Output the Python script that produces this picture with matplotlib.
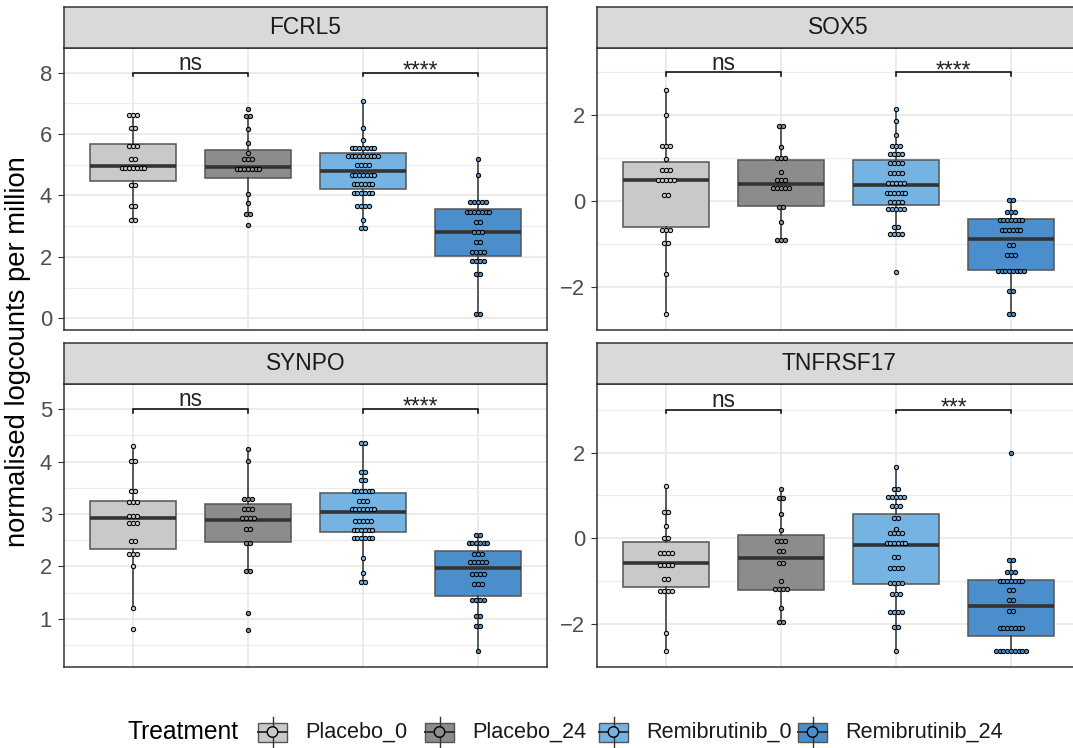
import matplotlib
matplotlib.use("Agg")
import matplotlib.pyplot as plt
import numpy as np
from matplotlib.patches import Rectangle, Ellipse
from matplotlib.ticker import MultipleLocator

plt.rcParams['font.family'] = ['Liberation Sans', 'DejaVu Sans']

groups = ["Placebo_0", "Placebo_24", "Remibrutinib_0", "Remibrutinib_24"]
colors = ["#CBC8C8", "#8C8C8C", "#74B3E2", "#4A8FCC"]
genes = ["FCRL5", "SOX5", "SYNPO", "TNFRSF17"]

# dot stacks: bin levels and number of dots per bin, one list per group
FCRL5_levels = [
    [6.62, 6.21, 5.62, 5.18, 4.89, 4.33, 3.65, 3.20],
    [6.82, 6.58, 6.16, 5.70, 5.39, 5.18, 4.85, 4.06, 3.77, 3.39, 3.03],
    [7.07, 6.19, 5.80, 5.54, 5.29, 4.99, 4.65, 4.36, 4.09, 3.67, 3.20, 2.94],
    [5.18, 4.68, 3.80, 3.46, 3.15, 2.81, 2.48, 2.17, 1.88, 1.43, 0.13],
]
FCRL5_counts = [
    [3, 2, 3, 2, 7, 2, 2, 2],
    [1, 2, 1, 1, 1, 3, 7, 1, 1, 2, 1],
    [1, 1, 1, 7, 9, 4, 7, 6, 6, 4, 1, 2],
    [1, 1, 5, 7, 2, 3, 2, 4, 4, 2, 2],
]
SOX5_levels = [
    [2.59, 2.01, 1.29, 0.98, 0.72, 0.50, 0.15, -0.66, -0.98, -1.69, -2.63],
    [1.76, 1.27, 1.00, 0.69, 0.49, 0.31, -0.13, -0.48, -0.90],
    [2.15, 1.88, 1.55, 1.29, 1.10, 0.89, 0.66, 0.43, 0.19, -0.02, -0.19, -0.61, -0.77, -1.66],
    [0.03, -0.24, -0.43, -0.67, -1.03, -1.25, -1.62, -2.08, -2.63],
]
SOX5_counts = [
    [1, 1, 3, 1, 3, 5, 2, 3, 2, 1, 1],
    [2, 1, 3, 1, 3, 5, 2, 1, 3],
    [1, 1, 1, 3, 4, 4, 4, 5, 6, 4, 5, 2, 4, 1],
    [2, 3, 7, 6, 2, 3, 8, 2, 2],
]
SYNPO_levels = [
    [4.30, 4.01, 3.43, 3.23, 2.97, 2.82, 2.48, 2.24, 2.00, 1.20, 0.80],
    [4.24, 4.01, 3.29, 3.10, 2.92, 2.71, 2.45, 1.91, 1.11, 0.78],
    [4.36, 3.80, 3.64, 3.44, 3.25, 3.10, 2.87, 2.69, 2.54, 2.16, 1.87, 1.70],
    [2.59, 2.44, 2.24, 2.09, 1.85, 1.66, 1.36, 1.06, 0.87, 0.38],
]
SYNPO_counts = [
    [1, 2, 2, 3, 3, 3, 2, 3, 1, 1, 1],
    [1, 1, 3, 3, 4, 2, 2, 2, 1, 1],
    [2, 2, 2, 6, 3, 7, 5, 6, 6, 1, 1, 2],
    [2, 6, 3, 5, 4, 3, 4, 2, 2, 1],
]
TNFRSF17_levels = [
    [1.21, 0.60, 0.29, 0.01, -0.34, -0.62, -0.96, -1.23, -2.21, -2.63],
    [1.15, 0.93, 0.56, 0.19, -0.06, -0.31, -0.58, -1.00, -1.19, -1.64, -1.96],
    [1.67, 1.15, 0.97, 0.74, 0.47, 0.22, 0.12, -0.12, -0.44, -0.70, -1.04, -1.31, -1.72, -2.08, -2.63],
    [2.00, -0.52, -0.79, -1.00, -1.21, -1.45, -1.70, -2.09, -2.63],
]
TNFRSF17_counts = [
    [1, 2, 1, 2, 4, 4, 2, 4, 1, 1],
    [1, 2, 1, 1, 3, 2, 2, 1, 4, 1, 2],
    [1, 2, 5, 3, 2, 1, 4, 6, 2, 4, 4, 3, 4, 2, 1],
    [1, 2, 3, 7, 2, 2, 2, 7, 9],
]

# box statistics (q1, median, q3)
FCRL5_box = [(4.47, 4.97, 5.67), (4.57, 4.94, 5.47), (4.22, 4.78, 5.37), (2.03, 2.82, 3.57)]
SOX5_box = [(-0.61, 0.49, 0.92), (-0.12, 0.40, 0.95), (-0.08, 0.37, 0.95), (-1.60, -0.88, -0.41)]
SYNPO_box = [(2.33, 2.93, 3.25), (2.46, 2.89, 3.19), (2.65, 3.03, 3.40), (1.43, 1.96, 2.29)]
TNFRSF17_box = [(-1.14, -0.59, -0.08), (-1.22, -0.47, 0.07), (-1.07, -0.16, 0.57), (-2.28, -1.58, -0.97)]

sig_labels = [["ns", "****"], ["ns", "****"], ["ns", "****"], ["ns", "***"]]
sig_y = [8.0, 3.0, 5.0, 3.0]

ylims = [(-0.38, 8.8), (-3.0, 3.57), (0.08, 5.48), (-3.01, 3.6)]
ysteps = [2, 2, 1, 2]

all_levels = [FCRL5_levels, SOX5_levels, SYNPO_levels, TNFRSF17_levels]
all_counts = [FCRL5_counts, SOX5_counts, SYNPO_counts, TNFRSF17_counts]
all_box = [FCRL5_box, SOX5_box, SYNPO_box, TNFRSF17_box]

W, H = 1073, 748
fig = plt.figure(figsize=(W / 100, H / 100), dpi=100)


def px_axes(x0, y0, x1, y1):
    return fig.add_axes([x0 / W, 1 - y1 / H, (x1 - x0) / W, (y1 - y0) / H])


panel_px = [(64, 48, 547, 330), (597, 48, 1080, 330),
            (64, 384, 547, 667), (597, 384, 1080, 667)]
strip_px = [(64, 7, 547, 48), (597, 7, 1080, 48),
            (64, 343, 547, 384), (597, 343, 1080, 384)]

dark = "#333333"
dot_step = 0.033  # horizontal spacing of stacked dots (x units)
positions = np.arange(1, 5)

for k, gene in enumerate(genes):
    ax = px_axes(*panel_px[k])
    levels, counts, box = all_levels[k], all_counts[k], all_box[k]

    stats = []
    for lv, (q1, med, q3) in zip(levels, box):
        iqr = q3 - q1
        inside = [v for v in lv if q1 - 1.5 * iqr <= v <= q3 + 1.5 * iqr]
        stats.append(dict(q1=q1, med=med, q3=q3, whislo=min(inside),
                          whishi=max(inside), fliers=[]))
    bp = ax.bxp(stats, positions=positions, widths=0.75, patch_artist=True,
                showfliers=False, showcaps=False,
                boxprops=dict(edgecolor="#555555", linewidth=1.1),
                whiskerprops=dict(color=dark, linewidth=1.1),
                medianprops=dict(color=dark, linewidth=2.6, solid_capstyle="butt"),
                zorder=2)
    for patch, c in zip(bp["boxes"], colors):
        patch.set_facecolor(c)

    # centred dot stacks
    for i, (lv, cn) in enumerate(zip(levels, counts)):
        xs, ys = [], []
        for v, n in zip(lv, cn):
            off = (np.arange(n) - (n - 1) / 2) * dot_step
            xs.extend(positions[i] + off)
            ys.extend([v] * n)
        ax.scatter(xs, ys, s=9.5, color=colors[i], edgecolors="black",
                   linewidths=0.75, zorder=4)

    # significance brackets
    yb = sig_y[k]
    tip = (ylims[k][1] - ylims[k][0]) * 0.012
    for (a, b), lab in zip([(1, 2), (3, 4)], sig_labels[k]):
        ax.plot([a, a, b, b], [yb - tip, yb, yb, yb - tip], color="black",
                lw=1.1, zorder=5, solid_joinstyle="miter")
        off = 2.0 if lab == "ns" else -3.4
        ax.annotate(lab, xy=((a + b) / 2, yb), xytext=(0, off),
                    textcoords="offset points", ha="center", va="baseline",
                    fontsize=16.3, color="#222222")

    ax.set_xlim(0.4, 4.6)
    ax.set_ylim(*ylims[k])
    ax.yaxis.set_major_locator(MultipleLocator(ysteps[k]))
    ax.yaxis.set_minor_locator(MultipleLocator(ysteps[k] / 2))
    ax.set_xticks(positions)
    ax.set_xticklabels([])
    ax.tick_params(axis="x", length=0)
    ax.tick_params(axis="y", which="major", length=4.3, width=0.8,
                   color=dark, labelsize=15.8, labelcolor="#4D4D4D", pad=4.3)
    ax.tick_params(axis="y", which="minor", length=0)
    ax.grid(True, which="major", color="#EBEBEB", lw=1.4, zorder=0)
    ax.grid(True, which="minor", axis="y", color="#EBEBEB", lw=0.8, zorder=0)
    ax.set_axisbelow(True)
    for sp in ax.spines.values():
        sp.set_color(dark)
        sp.set_linewidth(1.1)

    sax = px_axes(*strip_px[k])
    sax.set_facecolor("#D9D9D9")
    sax.set_xticks([])
    sax.set_yticks([])
    for sp in sax.spines.values():
        sp.set_color(dark)
        sp.set_linewidth(1.1)
    sax.text((547 - 64) / 2 / (strip_px[k][2] - strip_px[k][0]), 0.5, gene,
             transform=sax.transAxes, ha="center", va="center",
             fontsize=16.4, color="#1A1A1A")

fig.text(18 / W, 1 - 352 / H, "normalised logcounts per million", rotation=90,
         ha="center", va="center", fontsize=19.7, color="black")

# legend row
lax = fig.add_axes([0, 0, 1, 1], zorder=-1)
lax.set_xlim(0, W)
lax.set_ylim(H, 0)
lax.axis("off")
lax.text(127, 732, "Treatment", ha="left", va="center", fontsize=17.7, color="black")
key_x = [258, 425, 599, 798]
for kx, c, g in zip(key_x, colors, groups):
    lax.add_patch(Rectangle((kx, 722.5), 29, 19, facecolor=c, edgecolor="#555555", lw=1.0))
    lax.plot([kx + 14.5, kx + 14.5], [716.5, 747], color=dark, lw=1.0)
    lax.plot([kx, kx + 29], [732, 732], color=dark, lw=1.4)
    lax.add_patch(Ellipse((kx + 14.5, 732), 10.5, 10.5, facecolor=c, edgecolor="black", lw=1.0, zorder=3))
    lax.text(kx + 47, 732, g, ha="left", va="center", fontsize=15.6, color="#1A1A1A")

fig.savefig("out.png", dpi=100)
